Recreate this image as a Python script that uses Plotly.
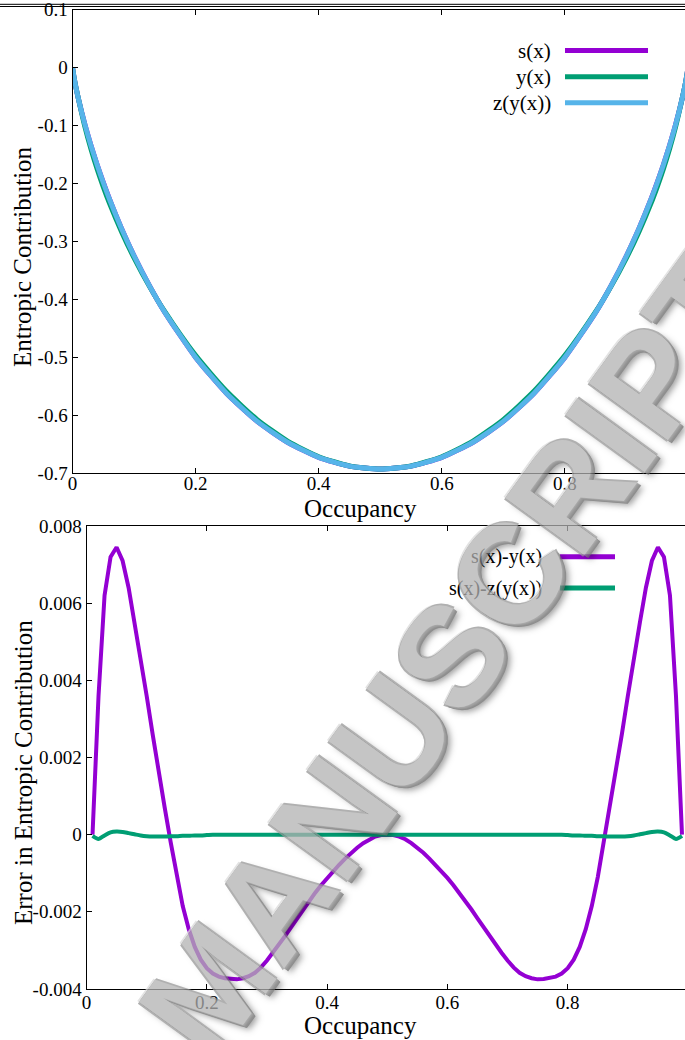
import plotly.graph_objects as go

# ---------------- data ----------------
# top panel: entropic contribution
x_top = [0, 0.002, 0.005, 0.01, 0.02, 0.03, 0.04, 0.05, 0.06, 0.08, 0.1, 0.125, 0.15,
         0.2, 0.25, 0.3, 0.35, 0.4, 0.45, 0.5, 0.55, 0.6, 0.65, 0.7, 0.75, 0.8,
         0.85, 0.875, 0.9, 0.92, 0.94, 0.95, 0.96, 0.97, 0.98, 0.99, 0.995, 0.998, 1.0]
s_top = [0, -0.0144, -0.0315, -0.0560, -0.0980, -0.1347, -0.1680, -0.1985, -0.2270, -0.2788,
         -0.3251, -0.3768, -0.4227, -0.5004, -0.5623, -0.6109, -0.6474, -0.6730, -0.6881,
         -0.6931, -0.6881, -0.6730, -0.6474, -0.6109, -0.5623, -0.5004, -0.4227, -0.3768,
         -0.3251, -0.2788, -0.2270, -0.1985, -0.1680, -0.1347, -0.0980, -0.0560, -0.0315,
         -0.0144, 0]
y_top = [0, -0.0144, -0.0315, -0.0560, -0.1016, -0.1409, -0.1752, -0.2060, -0.2341, -0.2843,
         -0.3287, -0.3779, -0.4216, -0.4970, -0.5586, -0.6078, -0.6453, -0.6719, -0.6878,
         -0.6931, -0.6878, -0.6719, -0.6453, -0.6078, -0.5586, -0.4970, -0.4216, -0.3779,
         -0.3287, -0.2843, -0.2341, -0.2060, -0.1752, -0.1409, -0.1016, -0.0560, -0.0315,
         -0.0144, 0]
z_top = [0, -0.0144, -0.0315, -0.0560, -0.0979, -0.1347, -0.1681, -0.1986, -0.2271, -0.2788,
         -0.3250, -0.3767, -0.4227, -0.5004, -0.5623, -0.6109, -0.6474, -0.6730, -0.6881,
         -0.6931, -0.6881, -0.6730, -0.6474, -0.6109, -0.5623, -0.5004, -0.4227, -0.3767,
         -0.3250, -0.2788, -0.2271, -0.1986, -0.1681, -0.1347, -0.0979, -0.0560, -0.0315,
         -0.0144, 0]

# bottom panel: errors
x_err = [0.01, 0.02, 0.03, 0.04, 0.05, 0.06, 0.07, 0.08, 0.09, 0.10,
         0.11, 0.12, 0.13, 0.14, 0.15, 0.16, 0.17, 0.18, 0.19, 0.20,
         0.21, 0.22, 0.23, 0.24, 0.25, 0.26, 0.27, 0.28, 0.29, 0.30,
         0.31, 0.32, 0.33, 0.34, 0.35, 0.36, 0.37, 0.38, 0.39, 0.40,
         0.41, 0.42, 0.43, 0.44, 0.45, 0.46, 0.47, 0.48, 0.49, 0.50,
         0.51, 0.52, 0.53, 0.54, 0.55, 0.56, 0.57, 0.58, 0.59, 0.60,
         0.61, 0.62, 0.63, 0.64, 0.65, 0.66, 0.67, 0.68, 0.69, 0.70,
         0.71, 0.72, 0.73, 0.74, 0.75, 0.76, 0.77, 0.78, 0.79, 0.80,
         0.81, 0.82, 0.83, 0.84, 0.85, 0.86, 0.87, 0.88, 0.89, 0.90,
         0.91, 0.92, 0.93, 0.94, 0.95, 0.96, 0.97, 0.98, 0.99]
err_sy = [0.0000, 0.0036, 0.0062, 0.0072, 0.00745, 0.0071, 0.0064, 0.0055, 0.0046, 0.0036,
          0.0026, 0.0016, 0.0007, -0.0002, -0.0011, -0.00185, -0.00245, -0.00291, -0.00324, -0.00346,
          -0.0036, -0.00368, -0.00372, -0.00374, -0.00375, -0.00372, -0.00367, -0.00358, -0.00344, -0.00326,
          -0.00306, -0.00285, -0.00263, -0.0024, -0.00217, -0.00194, -0.00172, -0.00151, -0.00131, -0.00112,
          -0.00094, -0.00078, -0.00062, -0.00047, -0.00034, -0.00022, -0.00012, -0.00005, -0.00001, 0.0,
          -0.00001, -0.00005, -0.00012, -0.00022, -0.00034, -0.00047, -0.00062, -0.00078, -0.00094, -0.00112,
          -0.00131, -0.00151, -0.00172, -0.00194, -0.00217, -0.0024, -0.00263, -0.00285, -0.00306, -0.00326,
          -0.00344, -0.00358, -0.00367, -0.00372, -0.00375, -0.00374, -0.00372, -0.00368, -0.0036, -0.00346,
          -0.00324, -0.00291, -0.00245, -0.00185, -0.0011, -0.0002, 0.0007, 0.0016, 0.0026, 0.0036,
          0.0046, 0.0055, 0.0064, 0.0071, 0.00745, 0.0072, 0.0062, 0.0036, 0.0000]
err_sz = [-0.00003, -0.00011, -0.00002, 0.00006, 0.00008, 0.00007, 0.00004, 0.00001, -0.00002, -0.00004,
          -0.00005, -0.00005, -0.00005, -0.00004, -0.00004, -0.00003, -0.00003, -0.00002, -0.00002, -0.00001,
          0.0, 0.0, 0.0, 0.0, 0.0, 0.0, 0.0, 0.0, 0.0, 0.0,
          0.0, 0.0, 0.0, 0.0, 0.0, 0.0, 0.0, 0.0, 0.0, 0.0,
          0.0, 0.0, 0.0, 0.0, 0.0, 0.0, 0.0, 0.0, 0.0, 0.0,
          0.0, 0.0, 0.0, 0.0, 0.0, 0.0, 0.0, 0.0, 0.0, 0.0,
          0.0, 0.0, 0.0, 0.0, 0.0, 0.0, 0.0, 0.0, 0.0, 0.0,
          0.0, 0.0, 0.0, 0.0, 0.0, 0.0, 0.0, 0.0, 0.0, -0.00001,
          -0.00002, -0.00002, -0.00003, -0.00003, -0.00004, -0.00004, -0.00005, -0.00005, -0.00005, -0.00004,
          -0.00002, 0.00001, 0.00004, 0.00007, 0.00008, 0.00006, -0.00002, -0.00011, -0.00003]

top_xticks = [0, 0.2, 0.4, 0.6, 0.8]
top_xlabels = ["0", "0.2", "0.4", "0.6", "0.8"]
top_yticks = [0.1, 0, -0.1, -0.2, -0.3, -0.4, -0.5, -0.6, -0.7]
top_ylabels = ["0.1", "0", "-0.1", "-0.2", "-0.3", "-0.4", "-0.5", "-0.6", "-0.7"]
bot_yticks = [0.008, 0.006, 0.004, 0.002, 0, -0.002, -0.004]
bot_ylabels = ["0.008", "0.006", "0.004", "0.002", "0", "-0.002", "-0.004"]

top_names = ["s(x)", "y(x)", "z(y(x))"]
bot_names = ["s(x)-y(x)", "s(x)-z(y(x))"]

PURPLE = "#9400d3"
GREEN = "#009e73"
BLUE = "#56b4e9"

W, H = 685, 1040
SERIF = "Liberation Serif"
SANS = "Liberation Sans"


def px(x):
    return x / W


def py(y):
    return 1 - y / H


fig = go.Figure()

# top panel traces
for yy, c, n in zip([s_top, y_top, z_top], [PURPLE, GREEN, BLUE], top_names):
    fig.add_trace(go.Scatter(x=x_top, y=yy, mode="lines", name=n,
                             line=dict(color=c, width=5, shape="spline", smoothing=0.6),
                             xaxis="x", yaxis="y", showlegend=False))

# bottom panel traces
fig.add_trace(go.Scatter(x=x_err, y=err_sy, mode="lines", name=bot_names[0],
                         line=dict(color=PURPLE, width=4), xaxis="x2", yaxis="y2",
                         showlegend=False))
fig.add_trace(go.Scatter(x=x_err, y=err_sz, mode="lines", name=bot_names[1],
                         line=dict(color=GREEN, width=4, shape="spline", smoothing=0.8),
                         xaxis="x2", yaxis="y2", showlegend=False))

tickfont = dict(family=SERIF, size=19, color="black")
common_x = dict(ticks="inside", ticklen=5, tickwidth=1, tickcolor="black",
                showline=True, linecolor="black", linewidth=1, mirror="ticks",
                showgrid=False, zeroline=False, tickfont=tickfont, tickmode="array",
                automargin=False, ticklabeloverflow="allow")
common_y = dict(ticks="inside", ticklen=5, tickwidth=1, tickcolor="black",
                showline=True, linecolor="black", linewidth=1, mirror=False,
                showgrid=False, zeroline=False, tickfont=tickfont, tickmode="array",
                automargin=False, ticklabeloverflow="allow")
right_y = dict(ticks="inside", ticklen=5, tickwidth=1, tickcolor="black",
               showline=False, showgrid=False, zeroline=False, showticklabels=False,
               side="right", tickmode="array", automargin=False)

top_dom_x = [px(72.5), 1]
top_dom_y = [py(473), py(9.5)]
bot_dom_x = [px(86.5), 1]
bot_dom_y = [py(989), py(526)]

fig.update_layout(
    template="none",
    width=W, height=H,
    margin=dict(l=0, r=0, t=0, b=0, pad=0),
    paper_bgcolor="white", plot_bgcolor="white",
    font=dict(family=SERIF, color="black"),
    xaxis=dict(domain=top_dom_x, anchor="y", range=[0, 0.9951],
               tickvals=top_xticks, ticktext=top_xlabels, ticklabelstandoff=-7, **common_x),
    yaxis=dict(domain=top_dom_y, anchor="x", range=[-0.7, 0.1],
               tickvals=top_yticks, ticktext=top_ylabels, **common_y),
    yaxis3=dict(overlaying="y", anchor="x", range=[-0.7, 0.1],
                tickvals=top_yticks, **right_y),
    xaxis2=dict(domain=bot_dom_x, anchor="y2", range=[0, 0.995],
                tickvals=top_xticks, ticktext=top_xlabels, ticklabelstandoff=-4, **common_x),
    yaxis2=dict(domain=bot_dom_y, anchor="x2", range=[-0.004, 0.008],
                tickvals=bot_yticks, ticktext=bot_ylabels, **common_y),
    yaxis4=dict(overlaying="y2", anchor="x2", range=[-0.004, 0.008],
                tickvals=bot_yticks, **right_y),
    showlegend=False,
)

annotations = []
titlefont = dict(family=SERIF, size=25, color="black")
annotations.append(dict(text="Entropic Contribution", x=px(22), y=py(257), xref="paper",
                        yref="paper", textangle=-90, showarrow=False, font=titlefont,
                        xanchor="center", yanchor="middle"))
annotations.append(dict(text="Error in Entropic Contribution", x=px(23), y=py(773),
                        xref="paper", yref="paper", textangle=-90, showarrow=False,
                        font=titlefont, xanchor="center", yanchor="middle"))
annotations.append(dict(text="Occupancy", x=px(360), y=py(508), xref="paper", yref="paper",
                        showarrow=False, font=titlefont, xanchor="center", yanchor="middle"))
annotations.append(dict(text="Occupancy", x=px(360), y=py(1025), xref="paper", yref="paper",
                        showarrow=False, font=titlefont, xanchor="center", yanchor="middle"))

shapes = []
# custom legends (text left of the line sample)
top_leg_y = [50.5, 76.7, 102.7]
top_cols = [PURPLE, GREEN, BLUE]
for name, yy, c in zip(top_names, top_leg_y, top_cols):
    annotations.append(dict(text=name, x=px(553), y=py(yy), xref="paper", yref="paper",
                            showarrow=False, xanchor="right", yanchor="middle",
                            font=dict(family=SERIF, size=21, color="black")))
    shapes.append(dict(type="line", xref="paper", yref="paper", x0=px(565), x1=px(648),
                       y0=py(yy), y1=py(yy), line=dict(color=c, width=5)))
bot_leg_y = [556.7, 588]
bot_cols = [PURPLE, GREEN]
for name, yy, c in zip(bot_names, bot_leg_y, bot_cols):
    annotations.append(dict(text=name, x=px(544), y=py(yy), xref="paper", yref="paper",
                            showarrow=False, xanchor="right", yanchor="middle",
                            font=dict(family=SERIF, size=20, color="black")))
    shapes.append(dict(type="line", xref="paper", yref="paper", x0=px(560), x1=px(615),
                       y0=py(yy), y1=py(yy), line=dict(color=c, width=5)))

# page rules at top (cropped page context)
shapes.append(dict(type="line", xref="paper", yref="paper", x0=0, x1=1, y0=py(4.3), y1=py(4.3),
                   line=dict(color="black", width=1)))
shapes.append(dict(type="line", xref="paper", yref="paper", x0=0, x1=1, y0=py(6.5), y1=py(6.5),
                   line=dict(color="black", width=1)))

# watermark: bevelled grey stamp built from one text with stacked text-shadows
wm_cx, wm_cy = 450, 655
wm_shadow = ("0 1px 0 #8c8c8c, 0 2px 0 #808080, 0 3px 0 #767676, 0 4px 0 #6c6c6c, "
             "0 5px 0 #666666, 2px 0 0 #959595, -2px 0 0 #959595, 0 -2px 0 #dadada, "
             "0 8px 6px rgba(0,0,0,0.5)")
annotations.append(dict(text="<b>MANUSCRIPT</b>", x=px(wm_cx), y=py(wm_cy),
                        xref="paper", yref="paper", showarrow=False, textangle=-54,
                        xanchor="center", yanchor="middle", opacity=0.74,
                        font=dict(family=SANS, size=142, color="#b2b2b2",
                                  shadow=wm_shadow)))

fig.update_layout(annotations=annotations, shapes=shapes)

fig.write_html("out.html")
